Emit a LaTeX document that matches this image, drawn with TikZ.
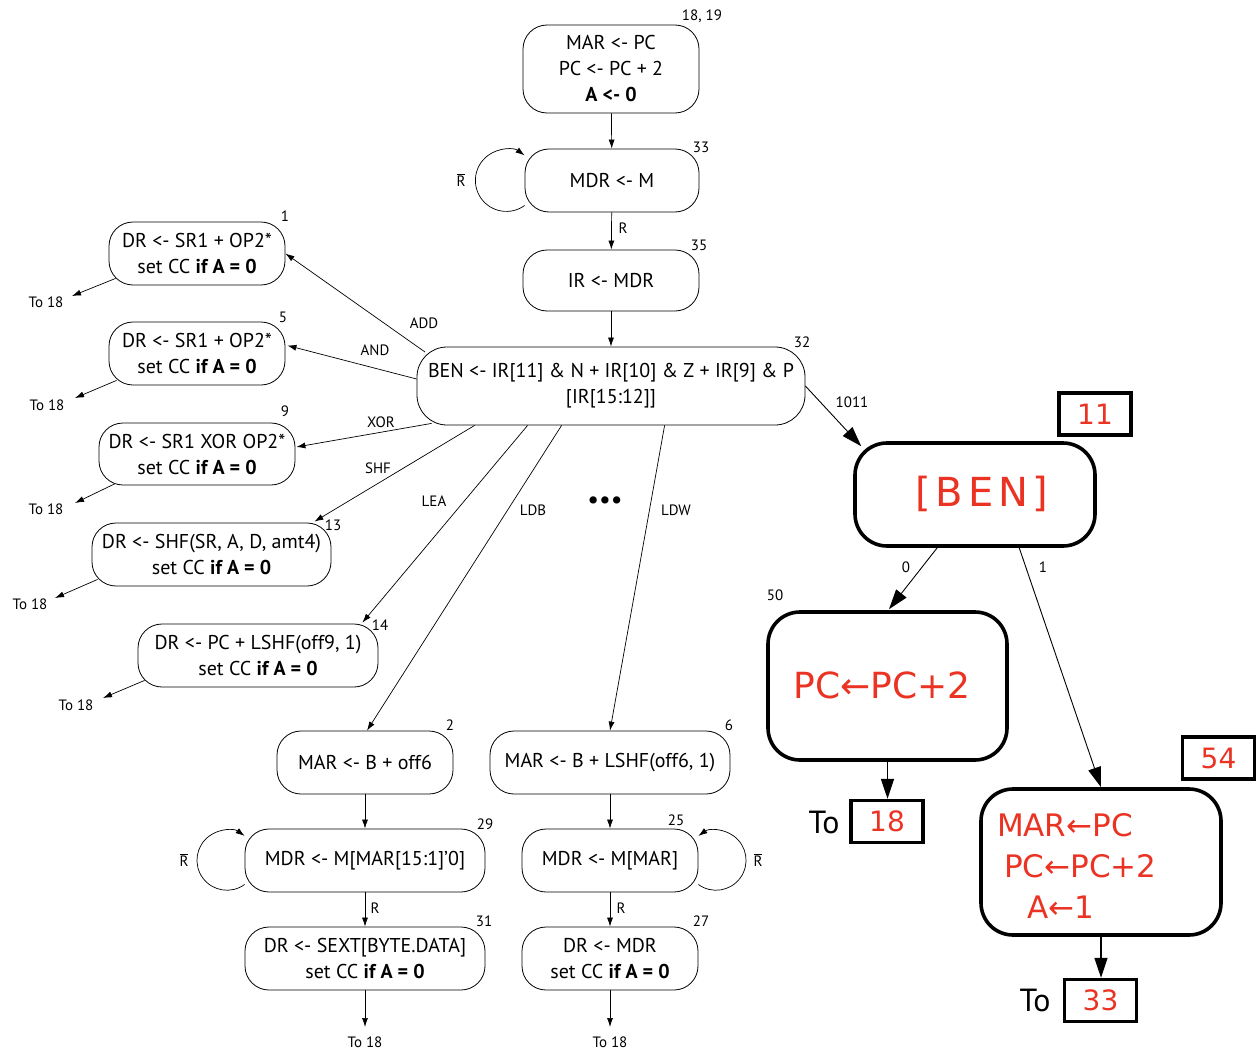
\documentclass[tikz,border=0pt]{standalone}
\usepackage{fontspec}
\setmainfont{PT Sans}
\newfontfamily\hand{DejaVu Sans}
\usetikzlibrary{arrows.meta,calc}
\definecolor{hred}{RGB}{234,51,35}
\begin{document}
\begin{tikzpicture}[x=1pt,y=1pt,
  st/.style={draw, line width=0.8pt, rounded corners=24pt, align=center, inner sep=0pt, font=\fontsize{20}{26}\selectfont},
  sz/.style 2 args={minimum width=#1pt, minimum height=#2pt},
  big/.style={draw, line width=3.6pt, rounded corners=32pt, inner sep=0pt},
  lbox/.style={draw, line width=3.4pt, inner sep=0pt, minimum width=72pt, minimum height=42pt},
  lab/.style={font=\fontsize{15}{17}\selectfont, inner sep=0pt},
  arr/.style={-{Latex[length=9pt,width=6pt]}, line width=0.7pt},
  barr/.style={-{Triangle[length=20pt,width=13pt]}, line width=0.9pt},
  hw/.style={text=hred, font=\hand\fontsize{34}{41}\selectfont},
]
\useasboundingbox (0,0) rectangle (1256,-1049);

% ---- main states
\node[st, sz={176}{88}] (n18) at (611,-69) {MAR <- PC\\PC <- PC + 2\\\textbf{A <- 0}};
\node[st, sz={174}{63}] (n33) at (612,-180.5) {MDR <- M};
\node[st, sz={176}{61}] (n35) at (611,-280.5) {IR <- MDR};
\node[st, sz={388}{78}, rounded corners=30pt] (n32) at (611,-386) {BEN <- IR[11] \& N + IR[10] \& Z + IR[9] \& P\\{[}IR[15:12]{]}};
\node[st, sz={176}{63}] (n1) at (197,-253.5) {DR <- SR1 + OP2*\\set CC \textbf{if A = 0}};
\node[st, sz={176}{63}] (n5) at (197,-353.5) {DR <- SR1 + OP2*\\set CC \textbf{if A = 0}};
\node[st, sz={196}{62}] (n9) at (197,-454) {DR <- SR1 XOR OP2*\\set CC \textbf{if A = 0}};
\node[st, sz={239}{63}] (n13) at (211.5,-554.5) {DR <- SHF(SR, A, D, amt4)\\set CC \textbf{if A = 0}};
\node[st, sz={240}{63}] (n14) at (258,-655.5) {DR <- PC + LSHF(off9, 1)\\set CC \textbf{if A = 0}};
\node[st, sz={176}{63}] (n2) at (365,-762.5) {MAR <- B + off6};
\node[st, sz={240}{63}] (n6) at (610,-762.5) {MAR <- B + LSHF(off6, 1)};
\node[st, sz={240}{63}] (n29) at (365,-860.5) {MDR <- M[MAR[15:1]’0]};
\node[st, sz={176}{63}] (n25) at (610,-860.5) {MDR <- M[MAR]};
\node[st, sz={240}{63}] (n31) at (365,-958.5) {DR <- SEXT[BYTE.DATA]\\set CC \textbf{if A = 0}};
\node[st, sz={176}{63}] (n27) at (610,-958.5) {DR <- MDR\\set CC \textbf{if A = 0}};

% ---- state numbers
\node[lab] (l18) at (702,-16) {18, 19};
\node[lab] (l33) at (701,-147) {33};
\node[lab] (l35) at (699,-245) {35};
\node[lab] (l32) at (802,-342) {32};
\node[lab] (l1) at (285,-216) {1};
\node[lab] (l5) at (283,-317) {5};
\node[lab] (l9) at (285,-411) {9};
\node[lab] (l13) at (333,-525) {13};
\node[lab] (l14) at (380,-625) {14};
\node[lab] (l2) at (450,-725) {2};
\node[lab] (l6) at (729,-725) {6};
\node[lab] (l29) at (485,-824) {29};
\node[lab] (l25) at (676,-820) {25};
\node[lab] (l31) at (484,-921) {31};
\node[lab] (l27) at (701,-921) {27};
\node[lab] (l50) at (775,-595) {50};

% ---- To 18 labels
\node[lab] (t1) at (46,-302) {To 18};
\node[lab] (t5) at (47,-405) {To 18};
\node[lab] (t9) at (46,-509) {To 18};
\node[lab] (t13) at (30,-604) {To 18};
\node[lab] (t14) at (76,-705) {To 18};
\node[lab] (t31) at (365,-1042) {To 18};
\node[lab] (t27) at (610,-1042) {To 18};
\coordinate (e1) at (72,-296);
\coordinate (e5) at (75,-398);
\coordinate (e9) at (75,-503);
\coordinate (e13) at (55,-598);
\coordinate (e14) at (103,-698);
\coordinate (e31) at (365,-1027);
\coordinate (e27) at (610,-1027);

% ---- main connectors
\draw[arr] (n18) -- (n33);
\draw[arr] (n33) -- (n35);
\draw[arr] (n35.south) -- (n35.south |- n32.north);
\draw[arr] (n29.south) -- (n29.south |- n31.north);
\draw[arr] (n25.south) -- (n25.south |- n27.north);
\draw[arr] (n2.south) -- (n2.south |- n29.north);
\draw[arr] (n6.south) -- (n6.south |- n25.north);
\draw[arr] (n31.south) -- (e31);
\draw[arr] (n27.south) -- (e27);

\draw[arr] ($(n1.south west)+(7,7)$) -- (e1);
\draw[arr] ($(n5.south west)+(8,5)$) -- (e5);
\draw[arr] ($(n9.south west)+(16,1.5)$) -- (e9);
\draw[arr] ($(n13.south west)+(6,7)$) -- (e13);
\draw[arr] ($(n14.south west)+(7,7)$) -- (e14);

\draw[arr] ($(n32.center)+(-186,34)$) -- (n1.east);
\draw[arr] ($(n32.west)+(0,7)$) -- ($(n5.east)+(2,8)$);
\draw[arr] ($(n32.south west)+(15,2)$) -- ($(n9.east)+(1,7)$);
\draw[arr] ($(n32.south west)+(58,0)$) -- ($(n13.north east)+(-17,1)$);
\draw[arr] ($(n32.south west)+(111,0)$) -- ($(n14.north east)+(-16,1)$);
\draw[arr] ($(n32.south west)+(145,0)$) -- ($(n2.north)+(2,0)$);
\draw[arr] ($(n32.south west)+(248,0)$) -- (n6.north);

% ---- self loops
\draw[arr] ($(n33.west)+(0,-25)$) arc[start angle=-54, end angle=-306, radius=31];
\draw[arr] ($(n29.west)+(0,-24)$) arc[start angle=-54, end angle=-306, radius=30];
\draw[arr] ($(n25.east)+(0,-24)$) arc[start angle=-126, end angle=126, radius=30];

% ---- edge labels
\node[lab] (rb33) at (461,-180) {$\overline{\mbox{R}}$};
\node[lab] (rb29) at (184,-860) {$\overline{\mbox{R}}$};
\node[lab] (rb25) at (758,-860) {$\overline{\mbox{R}}$};
\node[lab] (r33) at (623,-228) {R};
\node[lab] (r29) at (375,-908) {R};
\node[lab] (r25) at (621,-908) {R};
\node[lab] (lADD) at (424,-323) {ADD};
\node[lab] (lAND) at (375,-350) {AND};
\node[lab] (lXOR) at (381,-422) {XOR};
\node[lab] (lSHF) at (378,-468) {SHF};
\node[lab] (lLEA) at (434,-501) {LEA};
\node[lab] (lLDB) at (533,-510) {LDB};
\node[lab] (lLDW) at (676,-510) {LDW};
\node[font=\fontsize{26}{26}\selectfont, inner sep=0pt] (dots) at (605,-503) {•••};

% ---- hand-drawn additions
\node[big, minimum width=240pt, minimum height=103pt] (ben) at (975,-494.5) {};
\node[hw, font=\hand\fontsize{40}{44}\selectfont\addfontfeature{LetterSpace=12}] (bentxt) at (982,-494) {[BEN]};
\node[big, minimum width=239pt, minimum height=148pt] (n50) at (887.5,-686) {};
\node[hw, font=\hand\fontsize{36}{40}\selectfont] (t50) at (882,-685) {PC←PC+2};
\node[big, minimum width=240pt, minimum height=146pt] (n54) at (1101,-862) {};
\node[hw, font=\hand\fontsize{31}{41}\selectfont, align=left, text width=208pt, inner sep=0pt] (t54) at (1101,-866) {MAR←PC\\\hspace*{7pt}PC←PC+2\\\hspace*{30pt}A←1};

\node[lbox, hw, font=\hand\fontsize{28}{30}\selectfont] (b11) at (1095,-414) {11};
\node[lbox, hw, font=\hand\fontsize{28}{30}\selectfont] (b54) at (1218.5,-758) {54};
\node[lbox, hw, font=\hand\fontsize{28}{30}\selectfont] (b18) at (887,-821.5) {18};
\node[lbox, hw, font=\hand\fontsize{28}{30}\selectfont] (b33) at (1100.5,-1000.5) {33};
\node[font=\fontsize{32}{34}\selectfont, inner sep=0pt] (to18) at (824,-822) {To};
\node[font=\fontsize{32}{34}\selectfont, inner sep=0pt] (to33) at (1035,-1000) {To};

\draw[barr] (n32.east) -- ($(ben.north west)+(8,-5)$);
\draw[barr] ($(ben.south west)+(84,0)$) -- ($(n50.north)+(1.5,1)$);
\draw[barr] ($(ben.south west)+(166,0)$) -- (n54.north);
\draw[barr, line width=1.4pt] (n50.south) -- (n50.south |- b18.north);
\draw[barr, line width=1.4pt] (n54.south) -- (n54.south |- b33.north);

\node[lab] (l1011) at (852,-402) {1011};
\node[lab] (l0) at (906,-567) {0};
\node[lab] (l1b) at (1043,-567) {1};
\end{tikzpicture}
\end{document}
